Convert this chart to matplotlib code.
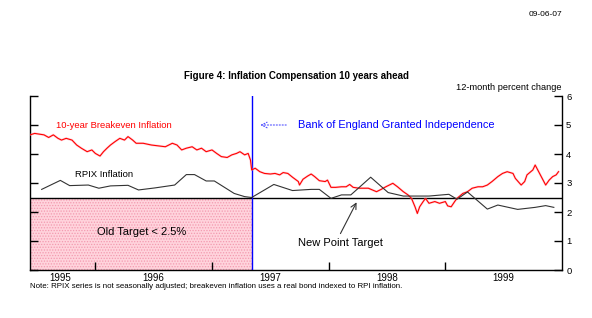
import matplotlib
matplotlib.use("Agg")
import matplotlib.pyplot as plt
from matplotlib.patches import Rectangle

plt.rcParams['font.family'] = ['Liberation Sans', 'DejaVu Sans']
plt.rcParams['hatch.linewidth'] = 0.6

# ---- data (decimal years) ----
breakeven_t = [1995.44, 1995.48, 1995.56, 1995.60, 1995.64, 1995.68, 1995.71, 1995.75, 1995.80,
               1995.84, 1995.88, 1995.93, 1995.97, 1996.00, 1996.04, 1996.07, 1996.10, 1996.13,
               1996.17, 1996.21, 1996.25, 1996.28, 1996.32, 1996.35, 1996.41, 1996.48, 1996.54,
               1996.60, 1996.66, 1996.70, 1996.74, 1996.78, 1996.83, 1996.87, 1996.91, 1996.95,
               1997.00, 1997.04, 1997.08, 1997.13, 1997.17, 1997.21, 1997.24, 1997.28, 1997.31,
               1997.33, 1997.34, 1997.37, 1997.41, 1997.45, 1997.50, 1997.54, 1997.58, 1997.61,
               1997.65, 1997.69, 1997.74, 1997.75, 1997.78, 1997.82, 1997.85, 1997.88, 1997.92,
               1997.97, 1997.99, 1998.02, 1998.06, 1998.11, 1998.15, 1998.18, 1998.21, 1998.26,
               1998.34, 1998.41, 1998.45, 1998.49, 1998.55, 1998.59, 1998.64, 1998.68, 1998.71,
               1998.74, 1998.76, 1998.78, 1998.81, 1998.83, 1998.86, 1998.91, 1998.95, 1999.00,
               1999.02, 1999.05, 1999.08, 1999.10, 1999.15, 1999.19, 1999.23, 1999.28, 1999.32,
               1999.36, 1999.40, 1999.45, 1999.49, 1999.53, 1999.58, 1999.60, 1999.65, 1999.68,
               1999.70, 1999.75, 1999.77, 1999.80, 1999.83, 1999.86, 1999.89, 1999.92, 1999.95,
               1999.97]
breakeven_v = [4.66, 4.71, 4.66, 4.57, 4.66, 4.54, 4.48, 4.54, 4.48,
               4.31, 4.20, 4.08, 4.14, 4.02, 3.93, 4.08, 4.20, 4.31,
               4.43, 4.54, 4.48, 4.60, 4.48, 4.37, 4.37, 4.31, 4.28,
               4.25, 4.37, 4.31, 4.14, 4.20, 4.25, 4.14, 4.20, 4.08,
               4.14, 4.02, 3.91, 3.88, 3.97, 4.02, 4.08, 3.97, 4.02,
               3.79, 3.45, 3.51, 3.39, 3.33, 3.31, 3.33, 3.28, 3.36,
               3.33, 3.20, 3.05, 2.93, 3.13, 3.24, 3.31, 3.22, 3.08,
               3.05, 3.10, 2.85, 2.85, 2.87, 2.87, 2.95, 2.85, 2.82,
               2.82, 2.70, 2.78, 2.87, 2.99, 2.87, 2.70, 2.59, 2.47,
               2.18, 1.95, 2.18, 2.36, 2.47, 2.30, 2.36, 2.30, 2.36,
               2.21, 2.18, 2.36, 2.47, 2.64, 2.70, 2.82, 2.87, 2.87,
               2.93, 3.05, 3.22, 3.33, 3.39, 3.33, 3.16, 2.93, 3.05,
               3.28, 3.45, 3.62, 3.39, 3.16, 2.93, 3.10, 3.22, 3.28,
               3.39]

rpix_t = [1995.54, 1995.70, 1995.78, 1995.94, 1996.03, 1996.13, 1996.28, 1996.37, 1996.51,
          1996.68, 1996.78, 1996.85, 1996.95, 1997.02, 1997.19, 1997.28, 1997.34, 1997.53,
          1997.69, 1997.85, 1997.92, 1998.02, 1998.11, 1998.19, 1998.36, 1998.51, 1998.64,
          1998.86, 1999.03, 1999.10, 1999.19, 1999.36, 1999.45, 1999.62, 1999.77, 1999.86,
          1999.93]
rpix_v = [2.78, 3.09, 2.91, 2.93, 2.82, 2.90, 2.92, 2.76, 2.83,
          2.93, 3.29, 3.29, 3.07, 3.07, 2.64, 2.53, 2.50, 2.95,
          2.74, 2.78, 2.78, 2.47, 2.59, 2.59, 3.20, 2.67, 2.55,
          2.55, 2.61, 2.44, 2.69, 2.10, 2.24, 2.09, 2.16, 2.22,
          2.16]

independence = 1997.34
old_target = 2.5
new_target = 2.5
year_ticks = [1996, 1997, 1998, 1999]
year_label_pos = [1995.70, 1996.5, 1997.5, 1998.5, 1999.5]
year_labels = ['1995', '1996', '1997', '1998', '1999']
y_ticks = [0, 1, 2, 3, 4, 5, 6]

# ---- figure ----
fig = plt.figure(figsize=(5.92, 3.18), dpi=100)
ax = fig.add_axes([30/592, 1-270/318, 532/592, 174/318])
xmin, xmax = 1995.44, 2000.0
ax.set_xlim(xmin, xmax)
ax.set_ylim(0, 6)

# shaded old target region
ax.add_patch(Rectangle((xmin, 0), independence - xmin, old_target,
                       facecolor='#ffd3dc', edgecolor='#f39ab0', hatch='......',
                       linewidth=0, zorder=0))
ax.axhline(new_target, color='black', lw=1.0, zorder=2)
ax.axvline(independence, color='#0000ff', lw=1.0, zorder=3)

ax.plot(breakeven_t, breakeven_v, color='#ffa0b0', lw=1.7, alpha=0.45, zorder=3)
ax.plot(breakeven_t, breakeven_v, color='#ff0000', lw=0.8, zorder=4)
ax.plot(rpix_t, rpix_v, color='#333333', lw=0.8, zorder=4)

# spines/ticks
ax.spines['top'].set_visible(False)
for s in ['left', 'right', 'bottom']:
    ax.spines[s].set_linewidth(1.0)
ax.set_yticks(y_ticks)
ax.yaxis.set_ticks_position('both')
ax.tick_params(axis='y', direction='in', length=6, width=1, labelleft=False,
               labelright=True, labelsize=6.8, pad=3)
ax.set_xticks(year_ticks)
ax.set_xticklabels([])
ax.set_xticks(year_label_pos, minor=True)
ax.set_xticklabels(year_labels, minor=True)
ax.tick_params(axis='x', which='major', direction='in', length=6, width=1)
ax.tick_params(axis='x', which='minor', length=0, labelsize=7, pad=2)

# annotations
ax.text(1995.66, 5.0, '10-year Breakeven Inflation', color='#ff0000', fontsize=6.8,
        va='center', ha='left')
ax.text(1995.83, 3.3, 'RPIX Inflation', color='black', fontsize=6.8, va='center', ha='left')
ax.text(1996.40, 1.3, 'Old Target < 2.5%', color='black', fontsize=8, va='center', ha='center')
ax.text(1997.74, 5.0, 'Bank of England Granted Independence', color='#0000ff', fontsize=7.9,
        va='center', ha='left')
ax.annotate('', xy=(independence + 0.05, 5.0), xytext=(1997.66, 5.0),
            arrowprops=dict(arrowstyle='->', color='#5050ff', lw=0.8, linestyle=':'))
ax.text(1997.74, 0.93, 'New Point Target', color='black', fontsize=8, va='center', ha='left')
ax.annotate('', xy=(1998.25, 2.42), xytext=(1998.09, 1.17),
            arrowprops=dict(arrowstyle='->', color='#333333', lw=0.8))

fig.text(296/592, 1-76/318, 'Figure 4: Inflation Compensation 10 years ahead',
         fontsize=7, fontweight='bold', ha='center', va='center')
fig.text(561/592, 1-88/318, '12-month percent change', fontsize=6.7, ha='right', va='center')
fig.text(562/592, 1-14/318, '09-06-07', fontsize=6, ha='right', va='center')
fig.text(30/592, 1-287/318,
         'Note: RPIX series is not seasonally adjusted; breakeven inflation uses a real bond indexed to RPI inflation.',
         fontsize=5.7, ha='left', va='center')

fig.savefig('out.png', dpi=100)
